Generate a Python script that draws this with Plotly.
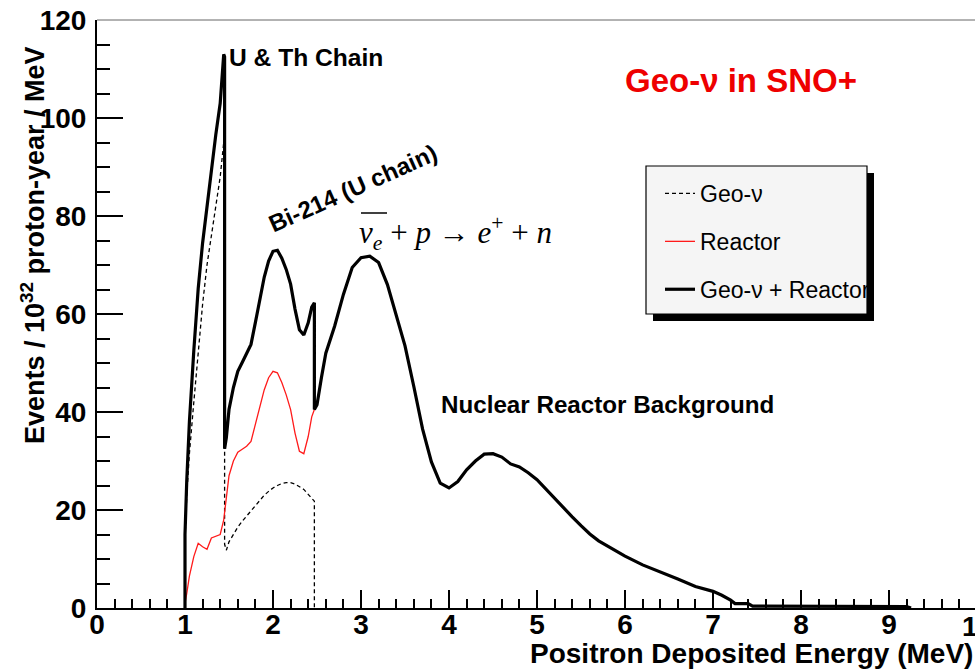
import plotly.graph_objects as go

# Antineutrino spectra (events / 10^32 proton-year / MeV) vs positron deposited energy (MeV)
geo_energy = [1.00, 1.00, 1.02, 1.05, 1.10, 1.15, 1.20, 1.25, 1.30, 1.35, 1.40, 1.44, 1.45, 1.45,
              1.47, 1.50, 1.55, 1.60, 1.65, 1.70, 1.75, 1.80, 1.85, 1.90, 1.95, 2.00, 2.05, 2.10,
              2.15, 2.20, 2.25, 2.30, 2.35, 2.40, 2.44, 2.47, 2.47]
geo_rate = [0, 14, 23, 31.5, 42, 52, 62, 70, 76, 82, 88, 95, 93, 13,
            11.8, 13.5, 15, 16.5, 17.7, 18.8, 19.8, 20.8, 22, 23, 23.8, 24.5, 25, 25.4,
            25.6, 25.6, 25.3, 24.8, 24.2, 23.2, 22.4, 21.8, 0]

energy = [1.00, 1.00, 1.02, 1.05, 1.10, 1.15, 1.20, 1.25, 1.30, 1.35, 1.40, 1.44, 1.45, 1.45,
          1.47, 1.50, 1.55, 1.60, 1.65, 1.70, 1.75, 1.80, 1.85, 1.90, 1.95, 2.00, 2.05, 2.10,
          2.15, 2.20, 2.25, 2.30, 2.35, 2.40, 2.44, 2.47, 2.47, 2.50, 2.55, 2.60, 2.70, 2.80,
          2.90, 3.00, 3.10, 3.20, 3.30, 3.40, 3.50, 3.60, 3.70, 3.80, 3.90, 4.00, 4.10, 4.20,
          4.30, 4.40, 4.50, 4.60, 4.70, 4.80, 4.90, 5.00, 5.10, 5.20, 5.30, 5.40, 5.50, 5.60,
          5.70, 5.80, 5.90, 6.00, 6.20, 6.40, 6.60, 6.80, 7.00, 7.10, 7.20, 7.25, 7.40, 7.45,
          8.00, 9.00, 9.20, 9.25]
reactor_rate = [0, 1, 3, 6.5, 10.5, 13.2, 12.5, 12, 14.3, 14.6, 15, 18, 19.5, 19.5,
                23, 27, 30, 31.8, 32.4, 33, 34, 37.5, 41, 44.5, 47, 48.3, 48, 46,
                43.5, 40.5, 35.7, 32, 31.5, 35, 39, 40.5, 40.5, 41.5, 47, 52, 57.5, 64,
                69.5, 71.5, 71.8, 70.5, 66, 60, 53.5, 45.2, 36.5, 29.8, 25.5, 24.5, 25.8, 28.2,
                30, 31.4, 31.5, 30.8, 29.4, 28.8, 27.6, 26.2, 24.3, 22.2, 20.3, 18.6, 16.8, 15.1,
                13.7, 12.7, 11.7, 10.6, 8.8, 7.4, 5.9, 4.4, 3.4, 2.6, 1.6, 0.9, 0.9, 0.4,
                0.4, 0.3, 0.3, 0]
total_rate = [0, 15, 26, 38, 52.5, 65.2, 74.5, 82, 90.3, 96.6, 103, 113, 112.5, 32.5,
              34.8, 40.5, 45, 48.3, 50.1, 51.8, 53.8, 58.3, 63, 67.5, 70.8, 72.8, 73, 71.4,
              69.1, 66.1, 61, 56.8, 55.7, 58.2, 61.4, 62.3, 40.5, 41.5, 47, 52, 57.5, 64,
              69.5, 71.5, 71.8, 70.5, 66, 60, 53.5, 45.2, 36.5, 29.8, 25.5, 24.5, 25.8, 28.2,
              30, 31.4, 31.5, 30.8, 29.4, 28.8, 27.6, 26.2, 24.3, 22.2, 20.3, 18.6, 16.8, 15.1,
              13.7, 12.7, 11.7, 10.6, 8.8, 7.4, 5.9, 4.4, 3.4, 2.6, 1.6, 0.9, 0.9, 0.4,
              0.4, 0.3, 0.3, 0]

x_ticks = [0, 1, 2, 3, 4, 5, 6, 7, 8, 9]
y_ticks = [0, 20, 40, 60, 80, 100, 120]

W, H = 975, 669
ML, MR, MT, MB = 97, 0, 20, 61
PW, PH = W - ML - MR, H - MT - MB


def px(x):
    return (x - ML) / PW


def py(y):
    return (MT + PH - y) / PH


SANS = "Liberation Sans"
SERIF = "Liberation Serif"

fig = go.Figure()
fig.add_trace(go.Scatter(x=geo_energy, y=geo_rate, mode="lines", name="Geo-ν",
                         legendgroup="g1", line=dict(color="black", width=1.3, dash="4px,3px")))
fig.add_trace(go.Scatter(x=energy, y=reactor_rate, mode="lines", name="Reactor",
                         legendgroup="g2", line=dict(color="#ff1a1a", width=1.3)))
fig.add_trace(go.Scatter(x=energy, y=total_rate, mode="lines", name="Geo-ν + Reactor",
                         legendgroup="g3", line=dict(color="black", width=3.2)))

axis_common = dict(showgrid=False, zeroline=False, showline=True, linecolor="black",
                   linewidth=2, ticks="inside", tickcolor="black", tickwidth=1.5,
                   tickfont=dict(family=SANS, size=28, color="black", weight="bold"))

fig.update_xaxes(range=[0, 9.977], tickvals=x_ticks, ticklen=18, ticklabelstandoff=-10,
                 minor=dict(ticks="inside", dtick=0.2, ticklen=9, tickwidth=1.5, tickcolor="black"),
                 **axis_common)
fig.update_yaxes(range=[0, 120], tickvals=y_ticks, ticklen=26, ticklabelstandoff=3,
                 minor=dict(ticks="inside", dtick=5, ticklen=13, tickwidth=1.5, tickcolor="black"),
                 **axis_common)

annotations = [
    dict(text="Positron Deposited Energy (MeV)", x=px(975), y=py(653), xanchor="right",
         yanchor="middle", font=dict(family=SANS, size=28, color="black", weight="bold")),
    dict(text="Events / 10<sup>32</sup> proton-year / MeV", x=px(33), y=py(245), textangle=-90,
         xanchor="center", yanchor="middle",
         font=dict(family=SANS, size=27, color="black", weight="bold")),
    dict(text="10", x=px(977), y=py(626), xanchor="center", yanchor="middle",
         font=dict(family=SANS, size=28, color="black", weight="bold")),
    dict(text="U & Th Chain", x=px(227), y=py(58), xanchor="left", yanchor="middle",
         font=dict(family=SANS, size=24.6, color="black", weight="bold")),
    dict(text="Bi-214 (U chain)", x=px(352), y=py(188), textangle=-24, xanchor="center",
         yanchor="middle", font=dict(family=SANS, size=24, color="black", weight="bold")),
    dict(text="Nuclear Reactor Background", x=px(439), y=py(404), xanchor="left",
         yanchor="middle", font=dict(family=SANS, size=24.2, color="black", weight="bold")),
    dict(text="Geo-ν in SNO+", x=px(741), y=py(80), xanchor="center", yanchor="middle",
         font=dict(family=SANS, size=33, color="#ee0000", weight="bold")),
    dict(text="<i>ν</i><sub><i>e</i></sub> + <i>p</i> → <i>e</i><sup>+</sup> + <i>n</i>",
         x=px(357), y=py(233), xanchor="left", yanchor="middle",
         font=dict(family=SERIF, size=31, color="black")),
]
for a in annotations:
    a.update(xref="paper", yref="paper", showarrow=False)

shapes = [
    # top frame edge
    dict(type="line", xref="paper", yref="paper", x0=0, x1=1, y0=1, y1=1,
         line=dict(color="#666666", width=1)),
    # overline of the antineutrino symbol
    dict(type="line", xref="paper", yref="paper", x0=px(361), x1=px(387), y0=py(213), y1=py(213),
         line=dict(color="black", width=1.5)),
    # legend shadow and box
    dict(type="rect", xref="paper", yref="paper", x0=px(653), x1=px(874), y0=py(321), y1=py(173),
         fillcolor="black", line=dict(width=0)),
    dict(type="rect", xref="paper", yref="paper", x0=px(646), x1=px(867), y0=py(314), y1=py(166),
         fillcolor="#f5f5f5", line=dict(color="black", width=1.2)),
]

fig.update_layout(
    width=W, height=H,
    margin=dict(l=ML, r=MR, t=MT, b=MB),
    paper_bgcolor="white", plot_bgcolor="white",
    annotations=annotations, shapes=shapes,
    showlegend=True,
    legend=dict(x=px(660), y=py(172), xanchor="left", yanchor="top",
                bgcolor="rgba(0,0,0,0)", borderwidth=0, tracegroupgap=15,
                font=dict(family=SANS, size=23, color="black")),
)

fig.write_html("out.html")
